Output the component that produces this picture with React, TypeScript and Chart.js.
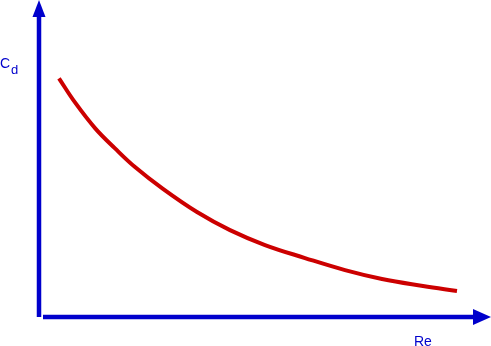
import React, { useEffect, useRef } from "react";
import { Chart, registerables } from "chart.js";

Chart.register(...registerables);

// Reynolds number (arbitrary units) vs drag coefficient (arbitrary units)
const reValues = [4.43, 7.98, 12.42, 16.85, 21.29, 27.49, 35.03, 42.35, 50.11, 58.98, 67.85, 76.05, 85.14, 92.68];
const cdValues = [75.3, 67.7, 59.6, 53.2, 47.3, 40.4, 33.1, 27.4, 22.7, 18.6, 14.8, 12.0, 9.8, 8.2];
const xLabel = "Re";
const yLabel = "C";
const ySub = "d";

const AXIS_COLOR = "#0000cc";

const axesPlugin = {
  id: "arrowAxes",
  afterDraw(chart: any) {
    const { ctx, chartArea } = chart;
    const { left, right, top, bottom } = chartArea;
    ctx.save();
    ctx.fillStyle = AXIS_COLOR;
    ctx.strokeStyle = AXIS_COLOR;
    ctx.lineWidth = 4.5;
    ctx.lineCap = "butt";
    // vertical axis
    ctx.beginPath();
    ctx.moveTo(left, bottom);
    ctx.lineTo(left, top + 15);
    ctx.stroke();
    ctx.beginPath();
    ctx.moveTo(left, top);
    ctx.lineTo(left - 6.5, top + 17);
    ctx.lineTo(left + 6.5, top + 17);
    ctx.closePath();
    ctx.fill();
    // horizontal axis
    ctx.beginPath();
    ctx.moveTo(left + 4, bottom);
    ctx.lineTo(right - 15, bottom);
    ctx.stroke();
    ctx.beginPath();
    ctx.moveTo(right + 1, bottom);
    ctx.lineTo(right - 17, bottom - 8);
    ctx.lineTo(right - 17, bottom + 8);
    ctx.closePath();
    ctx.fill();
    // labels
    ctx.textBaseline = "alphabetic";
    ctx.textAlign = "left";
    ctx.font = "14px 'Liberation Sans', Arial, sans-serif";
    ctx.fillText(yLabel, 0, 68);
    ctx.font = "13px 'Liberation Sans', Arial, sans-serif";
    ctx.fillText(ySub, 11, 73.5);
    ctx.font = "14px 'Liberation Sans', Arial, sans-serif";
    ctx.fillText(xLabel, 414, 346);
    ctx.restore();
  },
};

export default function App() {
  const canvasRef = useRef<HTMLCanvasElement | null>(null);

  useEffect(() => {
    if (!canvasRef.current) return;
    const chart = new Chart(canvasRef.current, {
      type: "line",
      data: {
        datasets: [
          {
            data: reValues.map((x, i) => ({ x, y: cdValues[i] })),
            borderColor: "#cc0000",
            borderWidth: 4,
            pointRadius: 0,
            fill: false,
            tension: 0.4,
          },
        ],
      },
      options: {
        responsive: false,
        animation: false,
        events: [],
        layout: { padding: { left: 39, right: 1, top: 0, bottom: 29 } },
        plugins: { legend: { display: false }, tooltip: { enabled: false } },
        scales: {
          x: { type: "linear", min: 0, max: 100, display: false },
          y: { type: "linear", min: 0, max: 100, display: false },
        },
      },
      plugins: [axesPlugin],
    });
    return () => chart.destroy();
  }, []);

  return (
    <div style={{ position: "fixed", left: 0, top: 0, width: 491, height: 346, background: "#fff" }}>
      <canvas ref={canvasRef} width={491} height={346} style={{ display: "block" }} />
    </div>
  );
}
